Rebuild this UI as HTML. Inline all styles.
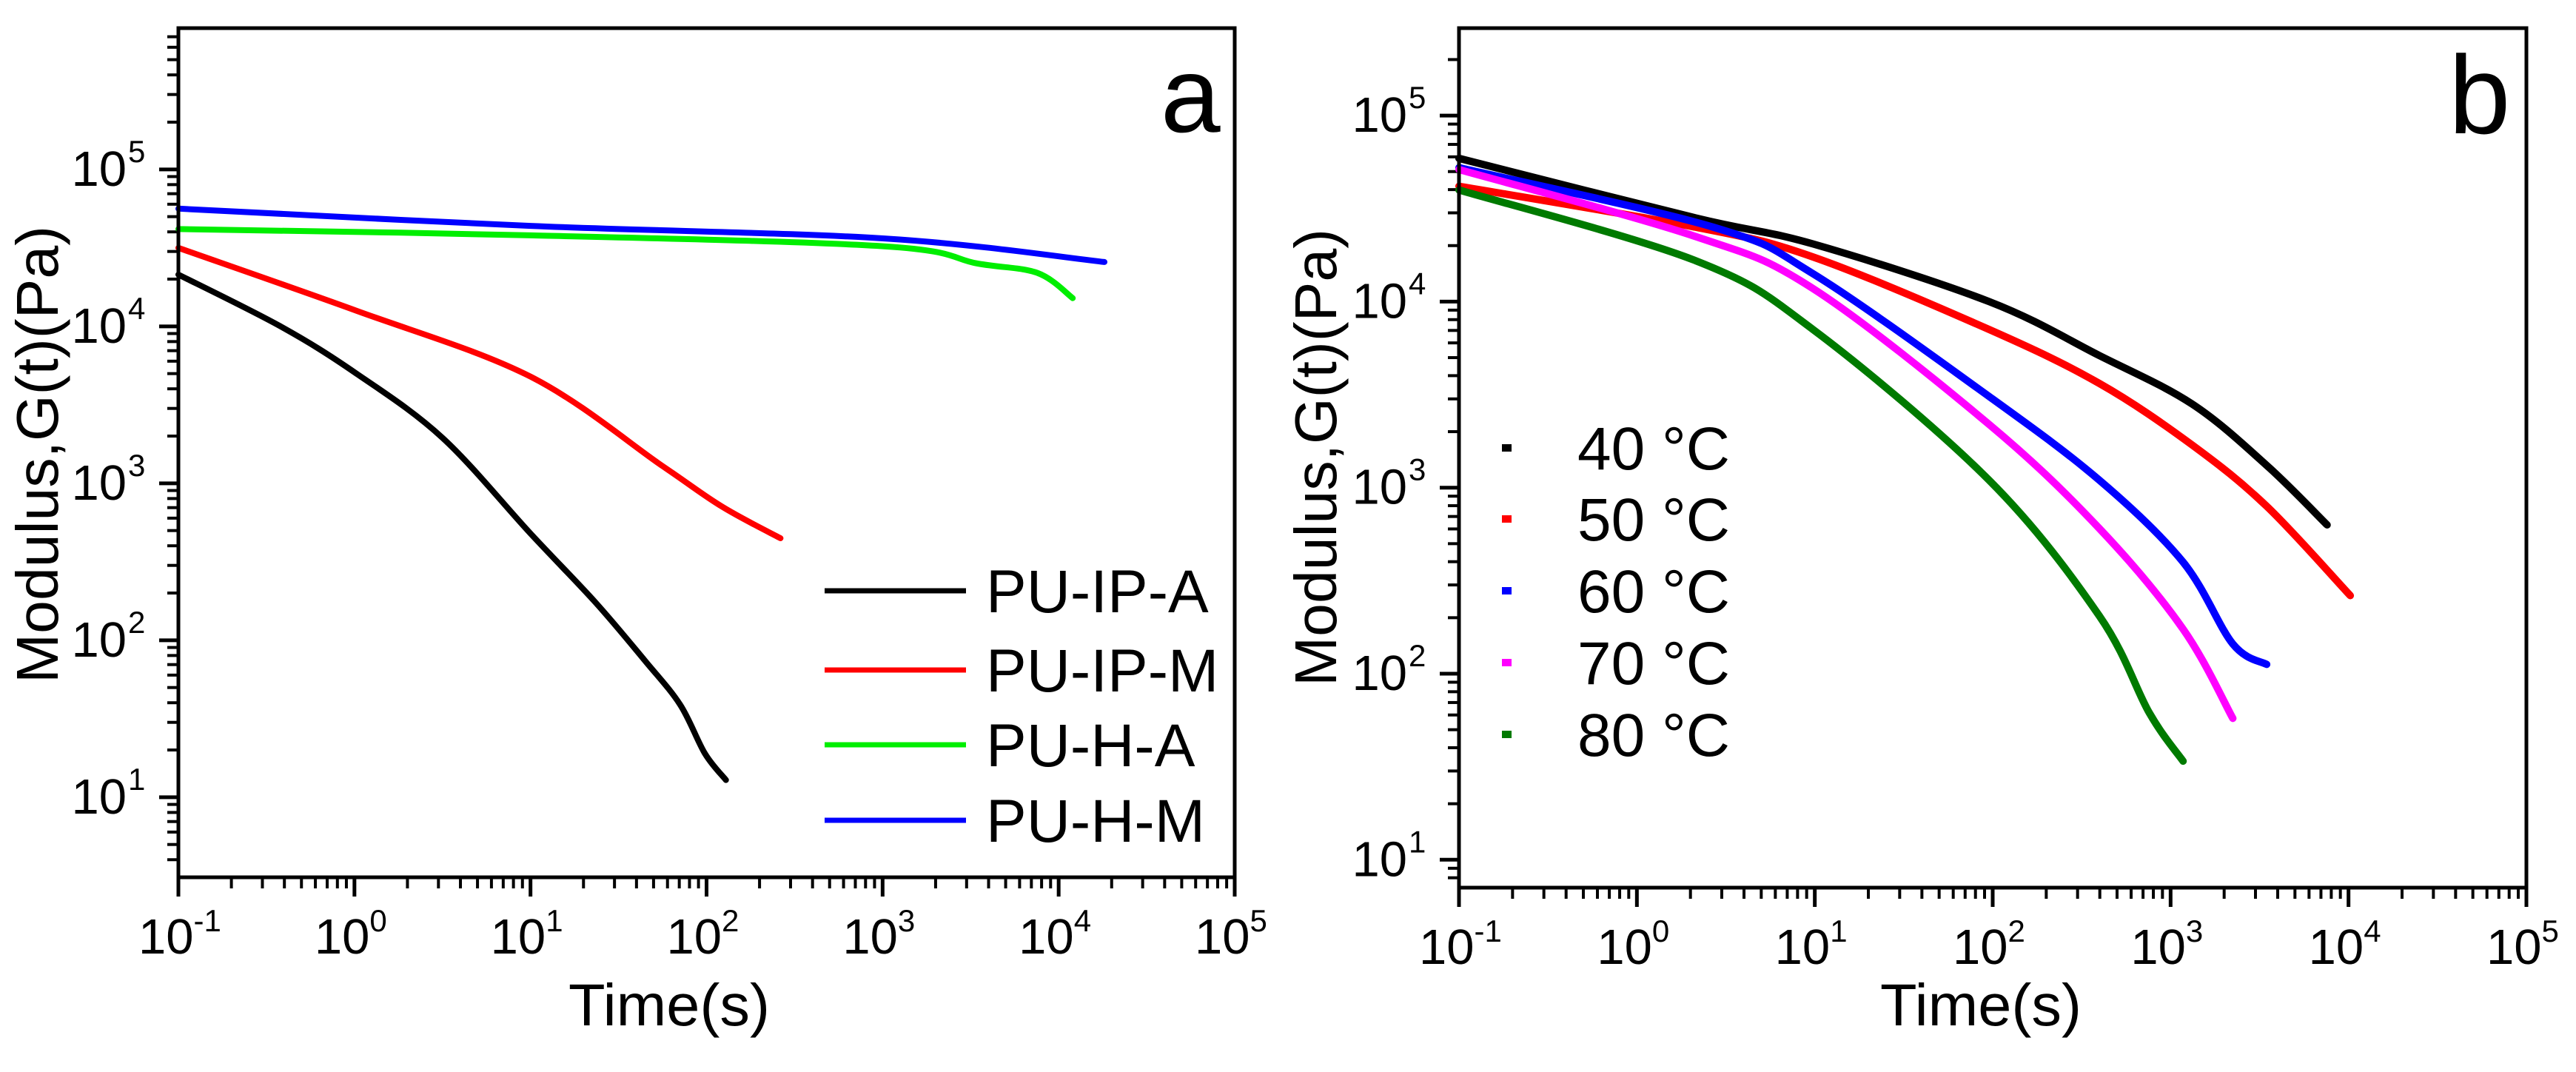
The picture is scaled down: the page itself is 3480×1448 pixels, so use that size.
<!DOCTYPE html>
<html><head><meta charset="utf-8"><style>
html,body{margin:0;padding:0;background:#fff;}
svg{display:block;font-family:"Liberation Sans",Arial,sans-serif;}
</style></head><body>
<svg id="fig" width="3480" height="1448" viewBox="0 0 3480 1448" xmlns="http://www.w3.org/2000/svg"></svg>
<script>
// ---- Panel a data (log10 values) ----
const aNames = ["PU-IP-A","PU-IP-M","PU-H-A","PU-H-M"];
const aColors = ["#000000","#ff0000","#00ee00","#0000ff"];
const aBlackX = [-1,-0.42,0.01,0.5,1.0,1.37,1.65,1.85,1.99,2.11];
const aBlackY = [4.33,4.0,3.70,3.29,2.68,2.24,1.87,1.59,1.28,1.11];
const aRedX = [-1,0.01,1.0,1.75,2.09,2.42];
const aRedY = [4.50,4.10,3.68,3.11,2.85,2.65];
const aGreenX = [-1,1.0,3.01,3.54,3.88,4.08];
const aGreenY = [4.62,4.58,4.51,4.40,4.34,4.18];
const aBlueX = [-1,1.0,3.01,4.26];
const aBlueY = [4.75,4.64,4.56,4.41];
// ---- Panel b data (log10 values) ----
const bNames = ["40 °C","50 °C","60 °C","70 °C","80 °C"];
const bColors = ["#000000","#ff0000","#0000ff","#ff00ff","#007a00"];
const b40X = [-1,0.33,0.99,1.98,2.60,3.12,3.54,3.88];
const b40Y = [4.77,4.45,4.31,4.0,3.71,3.45,3.12,2.80];
const b50X = [-1,0.33,0.99,1.98,2.60,3.12,3.54,4.01];
const b50Y = [4.62,4.40,4.24,3.85,3.56,3.23,2.90,2.42];
const b60X = [-1,0.43,0.99,1.98,2.60,3.07,3.35,3.54];
const b60Y = [4.72,4.40,4.15,3.49,3.04,2.60,2.16,2.05];
const b70X = [-1,0.33,0.99,1.98,2.60,3.07,3.35];
const b70Y = [4.71,4.35,4.07,3.34,2.78,2.24,1.76];
const b80X = [-1,0.33,0.99,1.98,2.60,2.88,3.07];
const b80Y = [4.60,4.22,3.85,3.04,2.31,1.79,1.53];
const xTicks = [-1,0,1,2,3,4,5];
const yTicks = [1,2,3,4,5];

const NS="http://www.w3.org/2000/svg";
const svg=document.getElementById('fig');
function mk(tag,attrs,parent){const e=document.createElementNS(NS,tag);for(const k in attrs)e.setAttribute(k,attrs[k]);(parent||svg).appendChild(e);return e;}
function smooth(p){
  let d='M'+p[0][0].toFixed(1)+','+p[0][1].toFixed(1);
  for(let i=0;i<p.length-1;i++){
    const p0=p[Math.max(0,i-1)],p1=p[i],p2=p[i+1],p3=p[Math.min(p.length-1,i+2)];
    const c1=[p1[0]+(p2[0]-p0[0])/6,p1[1]+(p2[1]-p0[1])/6];
    const c2=[p2[0]-(p3[0]-p1[0])/6,p2[1]-(p3[1]-p1[1])/6];
    d+=` C${c1[0].toFixed(1)},${c1[1].toFixed(1)} ${c2[0].toFixed(1)},${c2[1].toFixed(1)} ${p2[0].toFixed(1)},${p2[1].toFixed(1)}`;
  }
  return d;
}

function panel(P){
  const g=mk('g',{});
  
  
  const sx=v=>P.L+(v-(-1))*(P.R-P.L)/6;
  const sy=v=>P.T+(P.ymax-v)*(P.B-P.T)/(P.ymax-P.ymin);
  for(let d=-1;d<=5;d++){
    const t=mk('line',{x1:sx(d),x2:sx(d),y1:P.B,y2:P.B+26,stroke:'#000','stroke-width':5},g);
    
    
    if(d<5)for(let m=2;m<=9;m++){const x=sx(d+Math.log10(m));mk('line',{x1:x,x2:x,y1:P.B,y2:P.B+15,stroke:'#000','stroke-width':4},g);}
  }
  for(let d=Math.floor(P.ymin);d<=Math.ceil(P.ymax);d++){
    for(let m=1;m<=9;m++){const v=d+Math.log10(m);if(v<P.ymin||v>P.ymax)continue;const y=sy(v);
      mk('line',{x1:P.L-(m==1?26:15),x2:P.L,y1:y,y2:y,stroke:'#000','stroke-width':m==1?5:4},g);}
  }
  xTicks.forEach(v=>{
    const t=mk('text',{x:sx(v)-54,y:P.xlb,'font-size':67},g);
    
    
    t.textContent='10';
    const s=mk('tspan',{'font-size':42,dy:-30},t);s.textContent=String(v);
  });
  yTicks.forEach(v=>{
    const y=sy(v);
    const t=mk('text',{x:P.L-70,y:y+22,'font-size':67,'text-anchor':'end'},g);
    
    
    t.textContent='10';
    const s=mk('text',{x:P.L-68,y:y-10,'font-size':42,'text-anchor':'start'},g);
    
    
    s.textContent=String(v);
  });
  P.series.forEach((s,i)=>{
    const pts=s.x.map((xv,j)=>[sx(xv),sy(s.y[j])]);
    const pl=mk('path',{d:smooth(pts),fill:'none',stroke:s.c,'stroke-width':P.sw,'stroke-linejoin':'round','stroke-linecap':'round'},g);
    
    
  });
  const f=mk('rect',{x:P.L,y:P.T,width:P.R-P.L,height:P.B-P.T,fill:'none',stroke:'#000','stroke-width':5},g);
  
  
  const xt=mk('text',{x:P.xtx,y:1385,'font-size':80,'text-anchor':'middle',textLength:272,lengthAdjust:'spacingAndGlyphs'},g);
  
  
  xt.textContent='Time(s)';
  const yt=mk('text',{x:0,y:0,'font-size':80,'text-anchor':'middle',textLength:618,lengthAdjust:'spacingAndGlyphs',transform:`translate(${P.ytx},${P.yty}) rotate(-90)`},g);
  
  
  yt.textContent='Modulus,G(t)(Pa)';
  const pl=mk('text',{x:P.lx,y:P.ly,'font-size':P.lfs},g);
  
  
  pl.textContent=P.label;
  return {g,sx,sy};
}

panel({id:'a',L:241,R:1668,T:38,B:1185,ymin:0.49,ymax:5.90,sw:8,xlb:1288,xtx:904,ytx:78,yty:614,lx:1568,ly:178,lfs:145,label:'a',
  series:[{n:aNames[0],c:aColors[0],x:aBlackX,y:aBlackY},{n:aNames[1],c:aColors[1],x:aRedX,y:aRedY},{n:aNames[2],c:aColors[2],x:aGreenX,y:aGreenY},{n:aNames[3],c:aColors[3],x:aBlueX,y:aBlueY}]});
panel({id:'b',L:1971,R:3413,T:38,B:1199,ymin:0.85,ymax:5.47,sw:10,xlb:1302,xtx:2676,ytx:1805,yty:618,lx:3308,ly:180,lfs:150,label:'b',
  series:[{n:bNames[0],c:bColors[0],x:b40X,y:b40Y},{n:bNames[1],c:bColors[1],x:b50X,y:b50Y},{n:bNames[2],c:bColors[2],x:b60X,y:b60Y},{n:bNames[3],c:bColors[3],x:b70X,y:b70Y},{n:bNames[4],c:bColors[4],x:b80X,y:b80Y}]});

const legA=[798,905,1006,1108];
aNames.forEach((n,i)=>{
  const g=mk('g',{});
  
  
  mk('line',{x1:1114,x2:1305,y1:legA[i],y2:legA[i],stroke:aColors[i],'stroke-width':7},g);
  const t=mk('text',{x:1332,y:legA[i]+29,'font-size':82},g);
  t.textContent=n;
});
const legB=[605,701,798,895,992];
bNames.forEach((n,i)=>{
  const g=mk('g',{});
  
  
  mk('rect',{x:2029,y:legB[i]-5,width:13,height:10,fill:bColors[i]},g);
  const t=mk('text',{x:2131,y:legB[i]+29,'font-size':82},g);
  t.textContent=n;
});
</script>
</body></html>
